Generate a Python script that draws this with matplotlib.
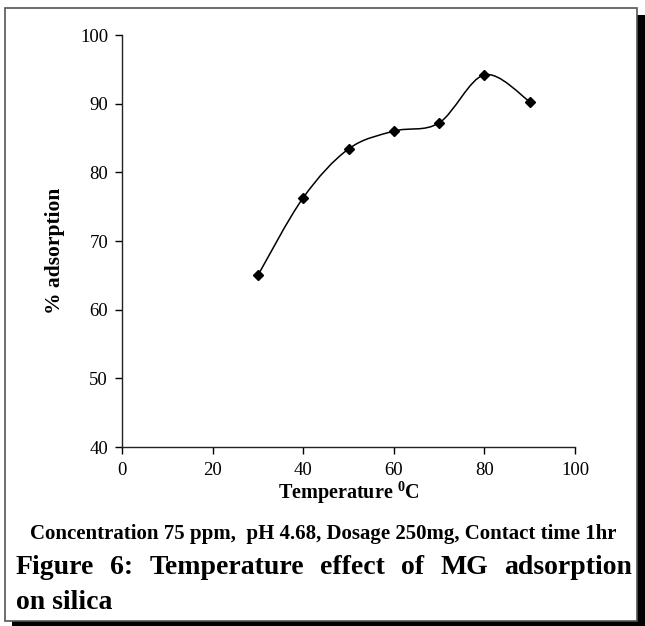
import matplotlib
matplotlib.use("Agg")
import matplotlib.pyplot as plt
import numpy as np
from matplotlib.path import Path
import matplotlib.patches as patches

# data
temperature = [30, 40, 50, 60, 70, 80, 90]
adsorption = [65.0, 76.3, 83.4, 86.0, 87.2, 94.2, 90.3]

x_ticks = [0, 20, 40, 60, 80, 100]
y_ticks = [40, 50, 60, 70, 80, 90, 100]

caption = "Concentration 75 ppm,  pH 4.68, Dosage 250mg, Contact time 1hr"
title_line1 = "Figure 6: Temperature effect of MG adsorption"
title_line2 = "on silica"

plt.rcParams['font.family'] = ['Liberation Serif', 'DejaVu Serif']
plt.rcParams['mathtext.fontset'] = 'custom'
plt.rcParams['mathtext.rm'] = 'Liberation Serif'
plt.rcParams['mathtext.bf'] = 'Liberation Serif:bold'

W, H = 645, 626
fig = plt.figure(figsize=(W / 100, H / 100), dpi=100)


def fx(px):
    return px / W


def fy(py):
    return 1 - py / H


# frame with drop shadow
fig.patches.append(patches.Rectangle((fx(12), fy(626)), fx(633), fy(15) - fy(626),
                                     transform=fig.transFigure, facecolor='black', edgecolor='none', zorder=0))
fig.patches.append(patches.Rectangle((fx(5), fy(621)), fx(632), fy(8) - fy(621),
                                     transform=fig.transFigure, facecolor='white', edgecolor='#555555',
                                     lw=1.2, zorder=1))

ax = fig.add_axes([fx(122), fy(447), fx(575) - fx(122), fy(35) - fy(447)])
ax.set_facecolor('none')
ax.set_zorder(2)


def smooth_path(xs, ys):
    # excel-like smoothed line (catmull-rom as cubic bezier)
    pts = np.column_stack([xs, ys]).astype(float)
    n = len(pts)
    verts = [tuple(pts[0])]
    codes = [Path.MOVETO]
    for i in range(n - 1):
        p0 = pts[i - 1] if i > 0 else pts[i]
        p1 = pts[i]
        p2 = pts[i + 1]
        p3 = pts[i + 2] if i + 2 < n else pts[i + 1]
        c1 = p1 + (p2 - p0) / 6.0
        c2 = p2 - (p3 - p1) / 6.0
        verts += [tuple(c1), tuple(c2), tuple(p2)]
        codes += [Path.CURVE4] * 3
    return Path(verts, codes)


ax.add_patch(patches.PathPatch(smooth_path(temperature, adsorption), facecolor='none',
                               edgecolor='black', lw=1.1))
ax.plot(temperature, adsorption, linestyle='none', marker='D', markersize=5,
        color='black')

ax.set_xlim(0, 100)
ax.set_ylim(40, 100)
ax.set_xticks(x_ticks)
ax.set_yticks(y_ticks)
for s in ['top', 'right']:
    ax.spines[s].set_visible(False)
for s in ['left', 'bottom']:
    ax.spines[s].set_linewidth(1.0)
    ax.spines[s].set_color('#222222')
ax.tick_params(direction='out', length=5, width=1.0, labelsize=13.5, pad=5)
ax.tick_params(axis='x', pad=6)

ax.set_xlabel(r"Temperature $^{\mathbf{0}}$C", fontsize=14.5, fontweight='bold', labelpad=0)
ax.set_ylabel("% adsorption", fontsize=15.5, fontweight='bold')
ax.yaxis.set_label_coords(-0.126, 0.475)

fig.text(fx(323), fy(534), caption, ha='center', va='center', fontsize=15,
         fontweight='bold')

# justified first title line
fig.canvas.draw()
renderer = fig.canvas.get_renderer()
words = title_line1.split()
tsize = 20
arts = [fig.text(0, fy(574), w, fontsize=tsize, fontweight='bold', ha='left',
                 va='baseline') for w in words]
widths = [a.get_window_extent(renderer).width for a in arts]
left, right = 16, 632
gap = (right - left - sum(widths)) / (len(words) - 1)
xpos = left
for a, w in zip(arts, widths):
    a.set_x(fx(xpos))
    xpos += w + gap
fig.text(fx(left), fy(609), title_line2, fontsize=tsize, fontweight='bold', ha='left',
         va='baseline')

fig.savefig("out.png", dpi=100)
